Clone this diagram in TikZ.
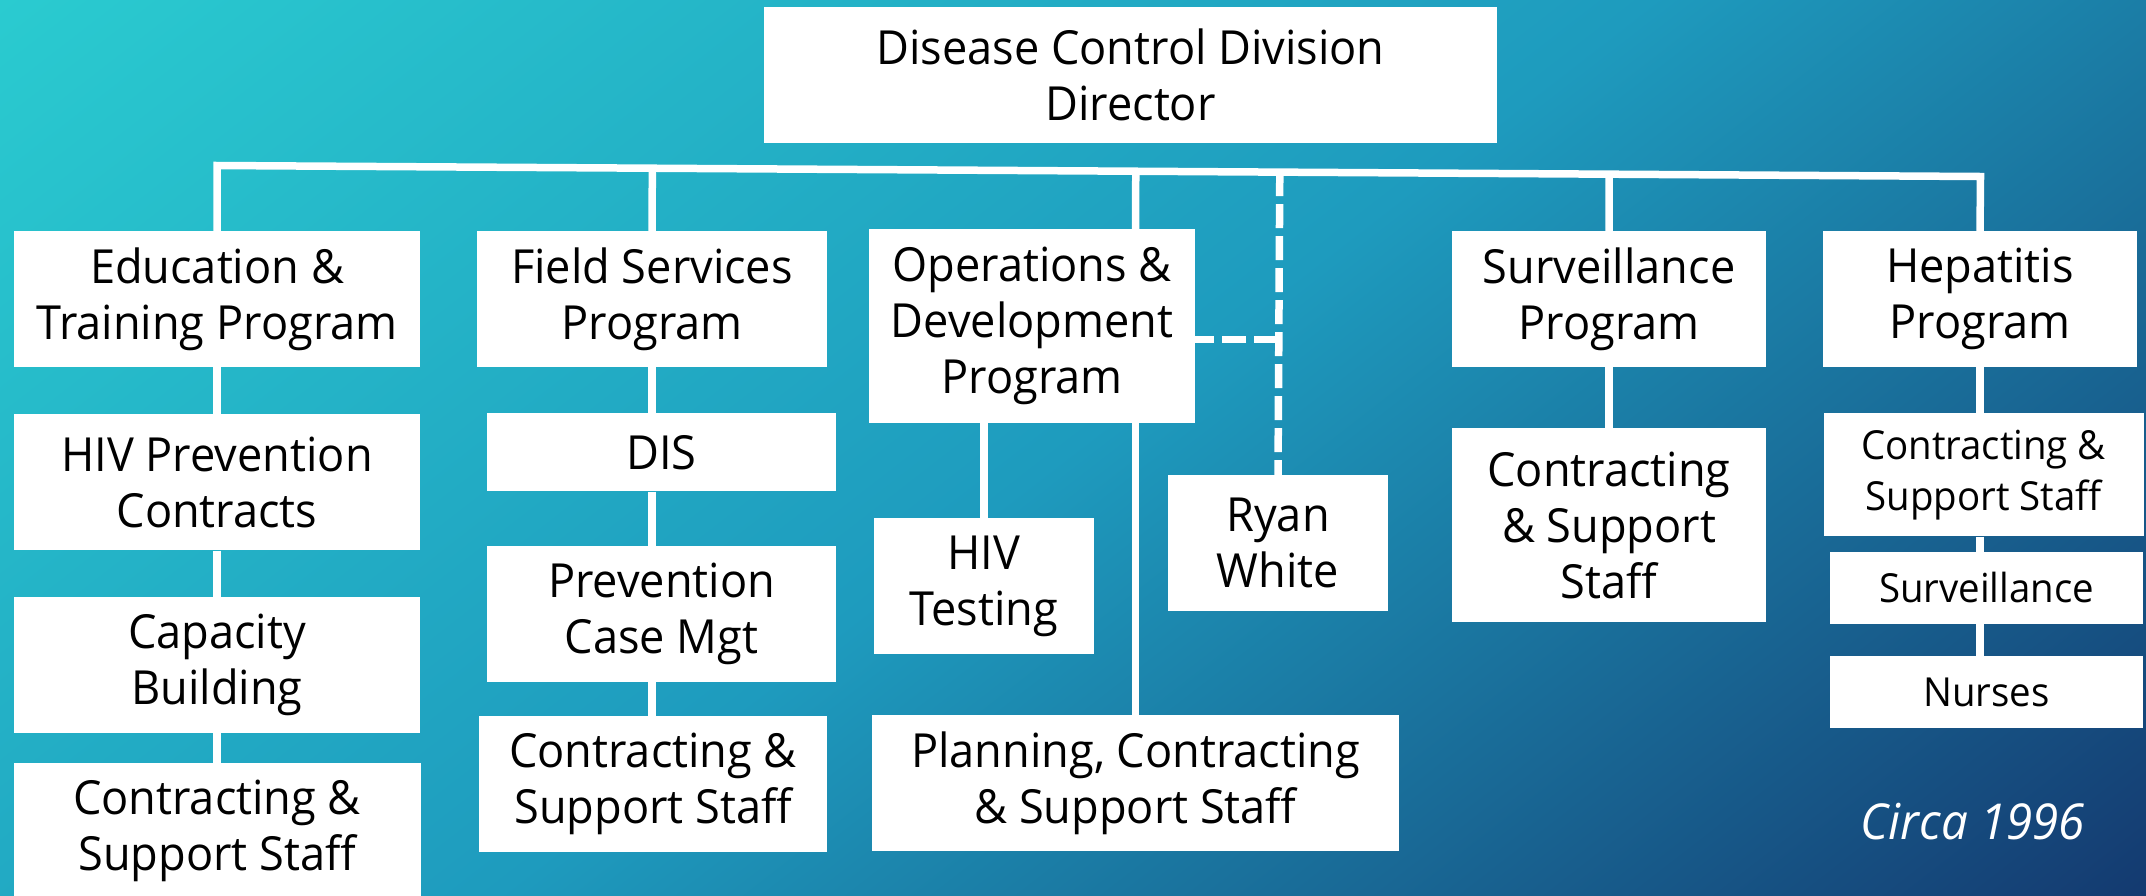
\documentclass[tikz,border=0pt]{standalone}
\usepackage{fontspec}
\setmainfont{Open Sans}[FakeStretch=0.96]
\usepackage{xcolor}
\usepackage{tikz}
\usetikzlibrary{shapes,arrows,positioning,calc}

\pgfdeclarefunctionalshading{bgshade}{\pgfpoint{-25bp}{-25bp}}{\pgfpoint{25bp}{25bp}}{}{
  25 exch sub 50 div 0.35 mul
  exch 25 add 50 div 0.65 mul add
  dup 0 lt {pop 0} if dup 1 gt {pop 1} if
  dup 0.5 lt {
    2 mul
    dup -12 mul 42 add 255 div exch
    dup -48 mul 203 add 255 div exch
    -18 mul 208 add 255 div
  }{
    0.5 sub 2 mul
    dup -10 mul 30 add 255 div exch
    dup -97 mul 155 add 255 div exch
    -78 mul 190 add 255 div
  } ifelse
}

\begin{document}
\begin{tikzpicture}[x=1pt, y=-1pt]
    % Define styles
    \tikzstyle{orgbox} = [rectangle, fill=white, text=black, align=center, inner sep=0pt, font=\fontsize{47}{56}\selectfont]
    \tikzstyle{suborgbox} = [orgbox, font=\fontsize{40}{51}\selectfont]
    \tikzstyle{line} = [draw=white, line width=7.5pt]
    \tikzstyle{dashline} = [line, dash pattern=on 24pt off 8pt]

    % Background
    \useasboundingbox (0,0) rectangle (2146,895);
    \fill [shading=bgshade] (0,0) rectangle (2146,895);

    % Nodes
    \node [orgbox, minimum width=733pt, minimum height=136pt] (director) at (1130.5,75) {Disease Control Division\\Director};

    \node [orgbox, minimum width=406pt, minimum height=136pt] (education) at (217,299) {Education \&\\Training Program};
    \node [orgbox, minimum width=406pt, minimum height=136pt, below=47pt of education] (hivprev) {HIV Prevention\\Contracts};
    \node [orgbox, minimum width=406pt, minimum height=136pt, below=46pt of hivprev] (capacity) {Capacity\\Building};
    \node [orgbox, minimum width=407pt, minimum height=136pt, below=30pt of capacity] (educontract) {Contracting \&\\Support Staff};

    \node [orgbox, minimum width=350pt, minimum height=136pt] (field) at (652,299) {Field Services\\Program};
    \node [orgbox, minimum width=349pt, minimum height=78pt, below=46pt of field, xshift=9.5pt] (dis) {DIS};
    \node [orgbox, minimum width=349pt, minimum height=136pt, below=54pt of dis] (prevention) {Prevention\\Case Mgt};
    \node [orgbox, minimum width=348pt, minimum height=136pt, below=34pt of prevention, xshift=-8.5pt] (fieldcontract) {Contracting \&\\Support Staff};

    \node [orgbox, minimum width=326pt, minimum height=194pt] (operations) at (1032,326) {Operations \&\\Development\\Program};
    \node [orgbox, minimum width=220pt, minimum height=136pt, below=95pt of operations, xshift=-48pt] (testing) {HIV\\Testing};
    \node [orgbox, minimum width=527pt, minimum height=136pt, below=292pt of operations, xshift=103.5pt] (planning) {Planning, Contracting\\\& Support Staff};
    \node [orgbox, minimum width=220pt, minimum height=136pt] (ryan) at (1278,543) {Ryan\\White};

    \node [orgbox, minimum width=314pt, minimum height=136pt] (surveillance) at (1609,299) {Surveillance\\Program};
    \node [orgbox, minimum width=314pt, minimum height=194pt, below=61pt of surveillance] (survcontract) {Contracting\\\& Support\\Staff};

    \node [orgbox, minimum width=314pt, minimum height=136pt] (hepatitis) at (1980,299) {Hepatitis\\Program};
    \node [suborgbox, minimum width=320pt, minimum height=123pt, below=46pt of hepatitis, xshift=3.5pt] (hepcontract) {Contracting \&\\Support Staff};
    \node [suborgbox, minimum width=313pt, minimum height=72pt, below=15pt of hepcontract, xshift=3pt] (hepsurv) {Surveillance};
    \node [suborgbox, minimum width=313pt, minimum height=72pt, below=32pt of hepsurv] (nurses) {Nurses};

    \node [text=white, font=\fontsize{49.5}{56}\selectfont\itshape] (circa) at (1973,822) {Circa 1996};

    % Lines
    \coordinate (barL) at (217,165.5);
    \coordinate (barR) at (1980.5,176.5);
    \draw [line] (education.north) -- (barL) -- (barR) -- (hepatitis.north);
    \draw [line] ($(barL)!(field.north)!(barR)$) -- (field.north);
    \draw [line] ($(barL)!(planning.north |- operations.north)!(barR)$) -- (planning.north |- operations.north);
    \draw [line] ($(barL)!(surveillance.north)!(barR)$) -- (surveillance.north);
    \draw [dashline] ($(barL)!(ryan.north)!(barR)$) -- (ryan.north);
    \coordinate (rwjoin) at (ryan.north |- 0,339.5);
    \draw [dashline] (rwjoin) -- (rwjoin -| operations.east);

    \draw [line] (education) -- (hivprev);
    \draw [line] (hivprev) -- (capacity);
    \draw [line] (capacity) -- (educontract);

    \draw [line] (field.south) -- (field.south |- dis.north);
    \draw [line] (field.south |- dis.south) -- (field.south |- prevention.north);
    \draw [line] (field.south |- prevention.south) -- (field.south |- fieldcontract.north);

    \draw [line] (testing.north |- operations.south) -- (testing);
    \draw [line] (planning.north |- operations.south) -- (planning);

    \draw [line] (surveillance) -- (survcontract);

    \draw [line] (hepatitis.south) -- (hepatitis.south |- hepcontract.north);
    \draw [line] (hepatitis.south |- hepcontract.south) -- (hepatitis.south |- hepsurv.north);
    \draw [line] (hepatitis.south |- hepsurv.south) -- (hepatitis.south |- nurses.north);
\end{tikzpicture}
\end{document}
